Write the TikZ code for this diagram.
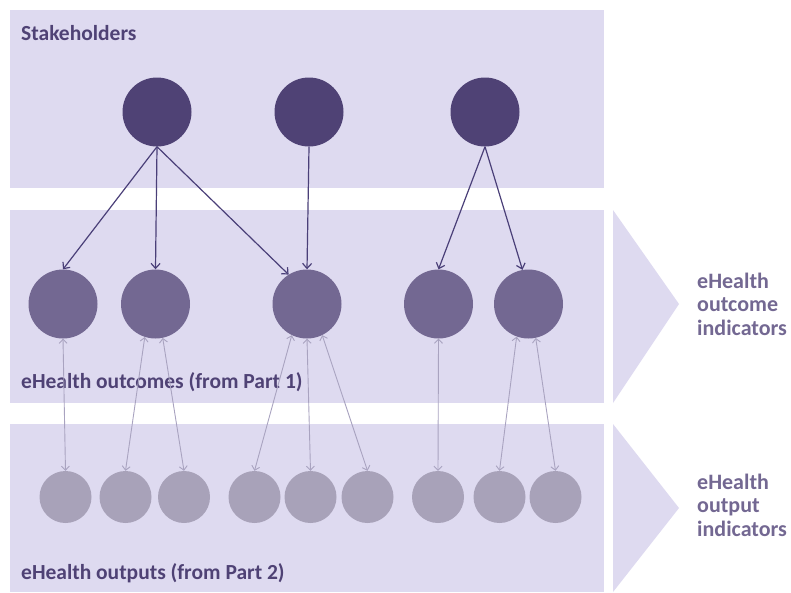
\documentclass[tikz,border=0pt]{standalone}
\usepackage{fontspec}
\setmainfont{Carlito}
\usetikzlibrary{arrows.meta}
\definecolor{bandfill}{HTML}{DEDAF0}
\definecolor{stakecol}{HTML}{4F4275}
\definecolor{outcomecol}{HTML}{736892}
\definecolor{outputcol}{HTML}{A8A2B9}
\definecolor{linkdark}{HTML}{4A3F78}
\definecolor{linklight}{HTML}{A9A3C0}
\tikzstyle{band}=[fill=bandfill,draw=none]
\tikzstyle{stakenode}=[circle,fill=stakecol,minimum size=69pt,inner sep=0pt]
\tikzstyle{outcomenode}=[circle,fill=outcomecol,minimum size=69pt,inner sep=0pt]
\tikzstyle{outputnode}=[circle,fill=outputcol,minimum size=52pt,inner sep=0pt]
\tikzstyle{bandlabel}=[anchor=base west,inner sep=0pt,text=stakecol,
                  font=\fontsize{21.5}{24}\selectfont\bfseries]
\tikzstyle{sidelabel}=[anchor=west,inner sep=0pt,align=left,text=outcomecol,
                  font=\fontsize{22}{23.5}\selectfont\bfseries]
\tikzstyle{down}=[-{Straight Barb[length=5pt,width=9pt]},line width=1.2pt,draw=linkdark]
\tikzstyle{link}=[{Straight Barb[length=4pt,width=8pt]}-{Straight Barb[length=4pt,width=8pt]},
                  line width=0.9pt,draw=linklight]

\begin{document}
\begin{tikzpicture}[x=1pt,y=-1pt]
      \useasboundingbox (0,0) rectangle (791,592);
      % bands and chevrons
      \fill[band] (10,10) rectangle (604,188);
      \fill[band] (10,210) rectangle (604,403);
      \fill[band] (10,424) rectangle (604,592);
      \fill[band] (613,210) -- (679,304) -- (613,403) -- cycle;
      \fill[band] (613,424) -- (679,508) -- (613,592) -- cycle;

      \node[bandlabel] (lstake) at (21,40) {Stakeholders};
      \node[bandlabel] (lout1) at (21,388) {eHealth outcomes (from Part 1)};
      \node[bandlabel] (lout2) at (21,579) {eHealth outputs (from Part 2)};
      \node[sidelabel] (sout1) at (697,304) {eHealth\\outcome\\indicators};
      \node[sidelabel] (sout2) at (697,505) {eHealth\\output\\indicators};

      % stakeholders
      \node[stakenode] (t1) at (157,112) {};
      \node[stakenode] (t2) at (309,112) {};
      \node[stakenode] (t3) at (485,112) {};

      % outcomes
      \node[outcomenode] (m1) at (63,304) {};
      \node[outcomenode] (m2) at (155.5,304) {};
      \node[outcomenode] (m3) at (307,304) {};
      \node[outcomenode] (m4) at (438.5,304) {};
      \node[outcomenode] (m5) at (528.5,304) {};

      % outputs
      \node[outputnode] (b1) at (65.5,497) {};
      \node[outputnode] (b2) at (125.5,497) {};
      \node[outputnode] (b3) at (184,497) {};
      \node[outputnode] (b4) at (254.5,497) {};
      \node[outputnode] (b5) at (310.5,497) {};
      \node[outputnode] (b6) at (367.5,497) {};
      \node[outputnode] (b7) at (438,497) {};
      \node[outputnode] (b8) at (499.5,497) {};
      \node[outputnode] (b9) at (555.5,497) {};

      \draw[down] (t1.south)--(m1.north);
      \draw[down] (t1.south)--(m2.north);
      \draw[down] (t1.south)--(m3.122);
      \draw[down] (t2.south)--(m3.north);
      \draw[down] (t3.south)--(m4.north);
      \draw[down] (t3.south)--(m5.100);

      \draw[link] (m1.south)--(b1.north);
      \draw[link] (m2.252)--(b2.north);
      \draw[link] (m2.282)--(b3.north);
      \draw[link] (m3.244)--(b4.north);
      \draw[link] (m3.south)--(b5.north);
      \draw[link] (m3.296)--(b6.north);
      \draw[link] (m4.south)--(b7.north);
      \draw[link] (m5.250)--(b8.north);
      \draw[link] (m5.282)--(b9.north);
    \end{tikzpicture}
\end{document}
